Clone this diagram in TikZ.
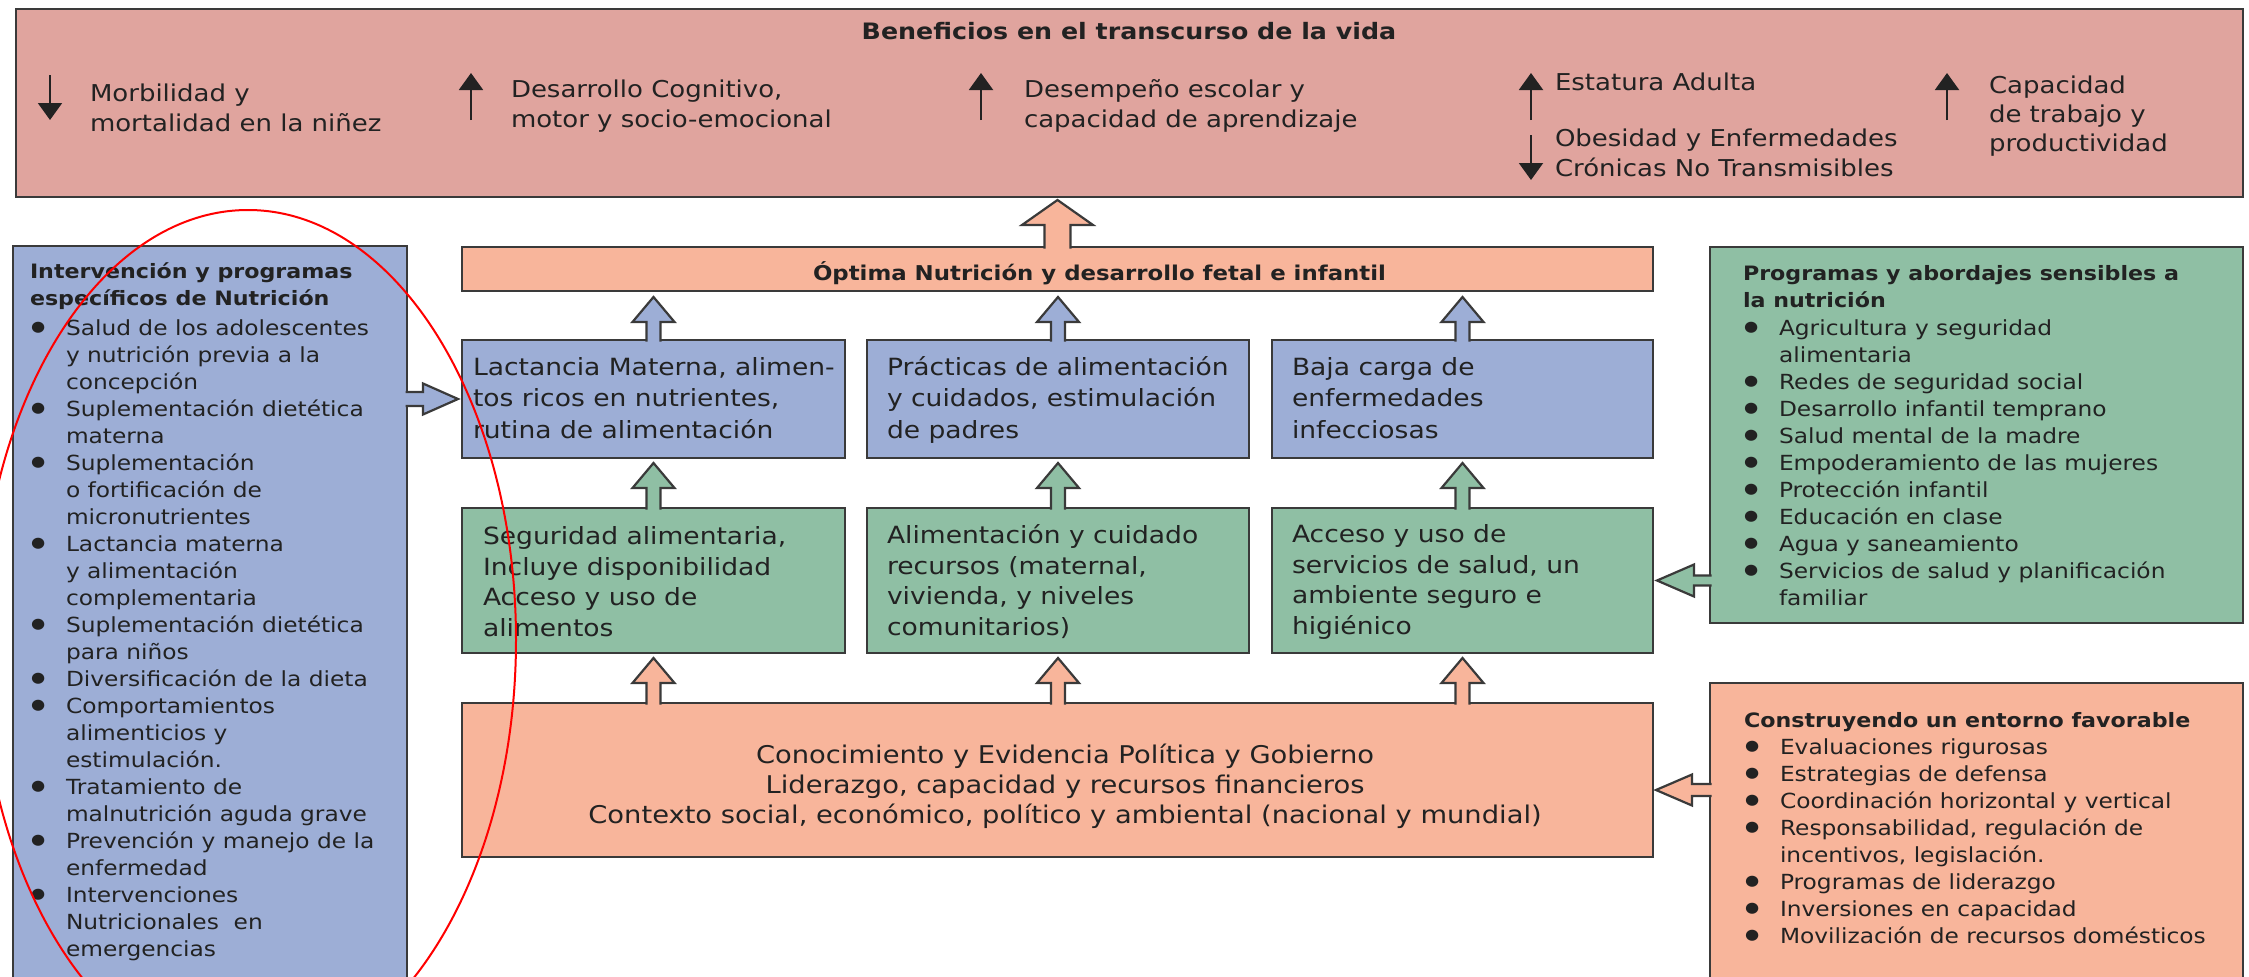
\documentclass[tikz,border=0pt]{standalone}
\usepackage{fontspec}
\setmainfont{DejaVu Sans}[FakeStretch=1.12]
\usetikzlibrary{arrows.meta,calc}
\definecolor{toppink}{HTML}{E0A49E}
\definecolor{salmon}{HTML}{F8B59B}
\definecolor{bluebx}{HTML}{9DAED6}
\definecolor{greenbx}{HTML}{8FBFA4}
\definecolor{edgec}{HTML}{3A3A3A}
\definecolor{txtc}{HTML}{222222}
\newcommand\bul{\makebox[36pt][l]{\hspace*{1pt}\raisebox{3.5pt}{\fontsize{14.5}{27}\selectfont ●}}}
\newcommand\ind{\hspace*{36pt}}
\newcommand\tb[1]{{\fontsize{19.8}{27}\selectfont\bfseries #1}}
% vertical block arrow: base, tip, shaft half, head half, head length, fill
\newcommand\blkv[6]{\filldraw[blkline,fill=#6] ($#1+(-#3,1.5)$) -- ($#2+(-#3,#5)$) -- ($#2+(-#4,#5)$) -- #2 -- ($#2+(#4,#5)$) -- ($#2+(#3,#5)$) -- ($#1+(#3,1.5)$);}
% horizontal block arrow: base, tip, shaft half, head half, head offset, fill, base inset
\newcommand\blkh[7]{\filldraw[blkline,fill=#6] ($#1+(#7,-#3)$) -- ($#2+(#5,-#3)$) -- ($#2+(#5,-#4)$) -- #2 -- ($#2+(#5,#4)$) -- ($#2+(#5,#3)$) -- ($#1+(#7,#3)$);}
\begin{document}
\begin{tikzpicture}[x=1pt,y=-1pt,
  every node/.style={inner sep=0pt,outer sep=0pt},
  boxst/.style={draw=edgec,line width=2.5pt,anchor=north west},
  blkline/.style={draw=edgec,line width=2.2pt,line join=miter},
  txt/.style={text=txtc,anchor=base west,align=left},
  thinarr/.style={draw=txtc,line width=2pt,-{Triangle[width=24pt,length=17pt]}},
  ftop/.style={font=\fontsize{23.2}{30}\selectfont},
  fmid/.style={font=\fontsize{23.7}{31.5}\selectfont},
  fside/.style={font=\fontsize{20.8}{27}\selectfont}]
\useasboundingbox (0,0) rectangle (2249,977);
\fill[white] (0,0) rectangle (2249,977);
% ---------- boxes
\node[boxst,fill=toppink,minimum width=2227pt,minimum height=188pt] (top) at (16,9) {};
\node[boxst,fill=bluebx,minimum width=394pt,minimum height=760pt] (lb) at (13,246) {};
\node[boxst,fill=salmon,minimum width=1191pt,minimum height=44pt] (opt) at (462,247) {};
\node[boxst,fill=bluebx,minimum width=383pt,minimum height=118pt] (b1) at (462,340) {};
\node[boxst,fill=bluebx,minimum width=382pt,minimum height=118pt] (b2) at (867,340) {};
\node[boxst,fill=bluebx,minimum width=381pt,minimum height=118pt] (b3) at (1272,340) {};
\node[boxst,fill=greenbx,minimum width=383pt,minimum height=145pt] (g1) at (462,508) {};
\node[boxst,fill=greenbx,minimum width=382pt,minimum height=145pt] (g2) at (867,508) {};
\node[boxst,fill=greenbx,minimum width=381pt,minimum height=145pt] (g3) at (1272,508) {};
\node[boxst,fill=salmon,minimum width=1191pt,minimum height=154pt] (bot) at (462,703) {};
\node[boxst,fill=greenbx,minimum width=533pt,minimum height=376pt] (rg) at (1710,247) {};
\node[boxst,fill=salmon,minimum width=533pt,minimum height=330pt] (rs) at (1710,683) {};
% ---------- block arrows
\coordinate (tOpt) at ($(opt.north |- top.south)+(0,3)$);
\blkv{(opt.north)}{(tOpt)}{13}{35.5}{25}{salmon}
\foreach \i in {1,2,3}{
  \coordinate (tb\i) at ($(b\i.north |- opt.south)+(0,6)$);
  \blkv{(b\i.north)}{(tb\i)}{7}{21}{25}{bluebx}
  \coordinate (tg\i) at ($(g\i.north |- b\i.south)+(0,5)$);
  \blkv{(g\i.north)}{(tg\i)}{7}{21}{25}{greenbx}
  \coordinate (sb\i) at (g\i.south |- bot.north);
  \coordinate (tt\i) at ($(g\i.south)+(0,5)$);
  \blkv{(sb\i)}{(tt\i)}{7}{21}{25}{salmon}
}
\coordinate (aL0) at (lb.east |- b1.west);
\coordinate (aL1) at ($(b1.west)+(-4,0)$);
\blkh{(aL0)}{(aL1)}{7}{15.5}{-35}{bluebx}{-1.5}
\coordinate (aG0) at (rg.west |- g3.east);
\coordinate (aG1) at ($(g3.east)+(4,0)$);
\blkh{(aG0)}{(aG1)}{5}{16}{37}{greenbx}{1.5}
\coordinate (aS0) at ($(rs.west |- bot.east)+(0,10)$);
\coordinate (aS1) at ($(bot.east)+(3,10)$);
\blkh{(aS0)}{(aS1)}{6}{15.5}{36}{salmon}{1.5}
% ---------- top box texts (anchor = baseline of the LAST line)
\node[txt,font=\fontsize{22.6}{30}\selectfont\bfseries,anchor=base] (title) at (1129,39) {Beneficios en el transcurso de la vida};
\node[txt,ftop] (it1) at (90,131) {Morbilidad y\\mortalidad en la niñez};
\node[txt,ftop] (it2) at (511,127) {Desarrollo Cognitivo,\\motor y socio-emocional};
\node[txt,ftop] (it3) at (1024,127) {Desempeño escolar y\\capacidad de aprendizaje};
\node[txt,ftop] (it4a) at (1555,90) {Estatura Adulta};
\node[txt,ftop] (it4b) at (1555,176) {Obesidad y Enfermedades\\Crónicas No Transmisibles};
\node[txt,font=\fontsize{23.2}{29}\selectfont] (it5) at (1989,151) {Capacidad\\de trabajo y\\productividad};
\draw[thinarr] ($(it1.base west)+(-40,-56)$) -- ++(0,45);
\draw[thinarr] ($(it2.base west)+(-40,-7)$) -- ++(0,-47);
\draw[thinarr] ($(it3.base west)+(-43,-7)$) -- ++(0,-47);
\draw[thinarr] ($(it4a.base west)+(-24,30)$) -- ++(0,-47);
\draw[thinarr] ($(it4b.base west)+(-24,-41)$) -- ++(0,45);
\draw[thinarr] ($(it5.base west)+(-42,-31)$) -- ++(0,-47);
% ---------- central texts
\node[txt,font=\fontsize{20.4}{30}\selectfont\bfseries] (optt) at (813,280) {Óptima Nutrición y desarrollo fetal e infantil};
\node[txt,fmid] (b1t) at (473,438) {Lactancia Materna, alimen-\\tos ricos en nutrientes,\\rutina de alimentación};
\node[txt,fmid] (b2t) at (887,438) {Prácticas de alimentación\\y cuidados, estimulación\\de padres};
\node[txt,fmid] (b3t) at (1292,438) {Baja carga de\\enfermedades\\infecciosas};
\node[txt,font=\fontsize{23.7}{30.5}\selectfont] (g1t) at (483,636) {Seguridad alimentaria,\\Incluye disponibilidad\\Acceso y uso de\\alimentos};
\node[txt,font=\fontsize{23.7}{30.5}\selectfont] (g2t) at (887,635) {Alimentación y cuidado\\recursos (maternal,\\vivienda, y niveles\\comunitarios)};
\node[txt,font=\fontsize{23.7}{30.5}\selectfont] (g3t) at (1292,634) {Acceso y uso de\\servicios de salud, un\\ambiente seguro e\\higiénico};
\node[txt,font=\fontsize{24.4}{30}\selectfont,anchor=base,align=center] (bott) at (1065,823) {Conocimiento y Evidencia Política y Gobierno\\Liderazgo, capacidad y recursos financieros\\Contexto social, económico, político y ambiental (nacional y mundial)};
% ---------- side texts
\node[txt,fside] (lbt) at (30,956) {\tb{Intervención y programas}\\
\tb{específicos de Nutrición}\\[3pt]
\bul Salud de los adolescentes\\
\ind y nutrición previa a la\\
\ind concepción\\
\bul Suplementación dietética\\
\ind materna\\
\bul Suplementación\\
\ind o fortificación de\\
\ind micronutrientes\\
\bul Lactancia materna\\
\ind y alimentación\\
\ind complementaria\\
\bul Suplementación dietética\\
\ind para niños\\
\bul Diversificación de la dieta\\
\bul Comportamientos\\
\ind alimenticios y\\
\ind estimulación.\\
\bul Tratamiento de\\
\ind malnutrición aguda grave\\
\bul Prevención y manejo de la\\
\ind enfermedad\\
\bul Intervenciones\\
\ind Nutricionales\ \ en\\
\ind emergencias};
\node[txt,fside] (rgt) at (1743,605) {\tb{Programas y abordajes sensibles a}\\
\tb{la nutrición}\\[1pt]
\bul Agricultura y seguridad\\
\ind alimentaria\\
\bul Redes de seguridad social\\
\bul Desarrollo infantil temprano\\
\bul Salud mental de la madre\\
\bul Empoderamiento de las mujeres\\
\bul Protección infantil\\
\bul Educación en clase\\
\bul Agua y saneamiento\\
\bul Servicios de salud y planificación\\
\ind familiar};
\node[txt,fside] (rst) at (1744,943) {\tb{Construyendo un entorno favorable}\\
\bul Evaluaciones rigurosas\\
\bul Estrategias de defensa\\
\bul Coordinación horizontal y vertical\\
\bul Responsabilidad, regulación de\\
\ind incentivos, legislación.\\
\bul Programas de liderazgo\\
\bul Inversiones en capacidad\\
\bul Movilización de recursos domésticos};
% ---------- red ellipse
\draw[red,line width=2pt] (248,640) ellipse [x radius=268, y radius=430];
\end{tikzpicture}
\end{document}
